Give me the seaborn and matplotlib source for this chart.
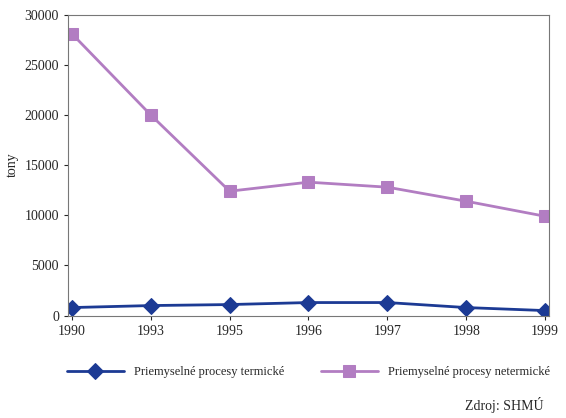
import pandas as pd
import matplotlib.pyplot as plt
import seaborn as sns

years = ['1990', '1993', '1995', '1996', '1997', '1998', '1999']
termicke = [800, 1000, 1100, 1300, 1300, 800, 500]
netermicke = [28100, 20000, 12400, 13300, 12800, 11400, 9900]

df = pd.DataFrame({'rok': years * 2,
                   'tony': termicke + netermicke,
                   'proces': ['Priemyselné procesy termické'] * 7 + ['Priemyselné procesy netermické'] * 7})

sns.set_style('white')
plt.rcParams['font.family'] = ['Liberation Serif', 'DejaVu Serif']

fig = plt.figure(figsize=(5.66, 4.18), dpi=100)
ax = fig.add_axes([0.12, 0.245, 0.85, 0.72])
sns.lineplot(data=df, x='rok', y='tony', hue='proces', style='proces', sort=False,
             palette=['#1c3a94', '#b27dc2'], markers=['D', 's'], dashes=False,
             markersize=8, linewidth=2, markeredgecolor=None, ax=ax, legend=True)
ax.set_ylim(0, 30000)
ax.set_xlim(-0.05, 6.05)
ax.set_yticks(range(0, 30001, 5000))
ax.set_xlabel('')
ax.set_ylabel('tony', fontsize=10)
ax.tick_params(labelsize=10, length=3, direction='out', left=True, bottom=True)
for s in ax.spines.values():
    s.set_color('#777777')
    s.set_linewidth(0.8)
ax.legend(loc='upper center', bbox_to_anchor=(0.5, -0.13), ncol=2, frameon=False,
          fontsize=9, handlelength=4.5, columnspacing=3)
fig.text(0.96, 0.02, 'Zdroj: SHMÚ', ha='right', fontsize=10)
fig.savefig('out.png', dpi=100)
